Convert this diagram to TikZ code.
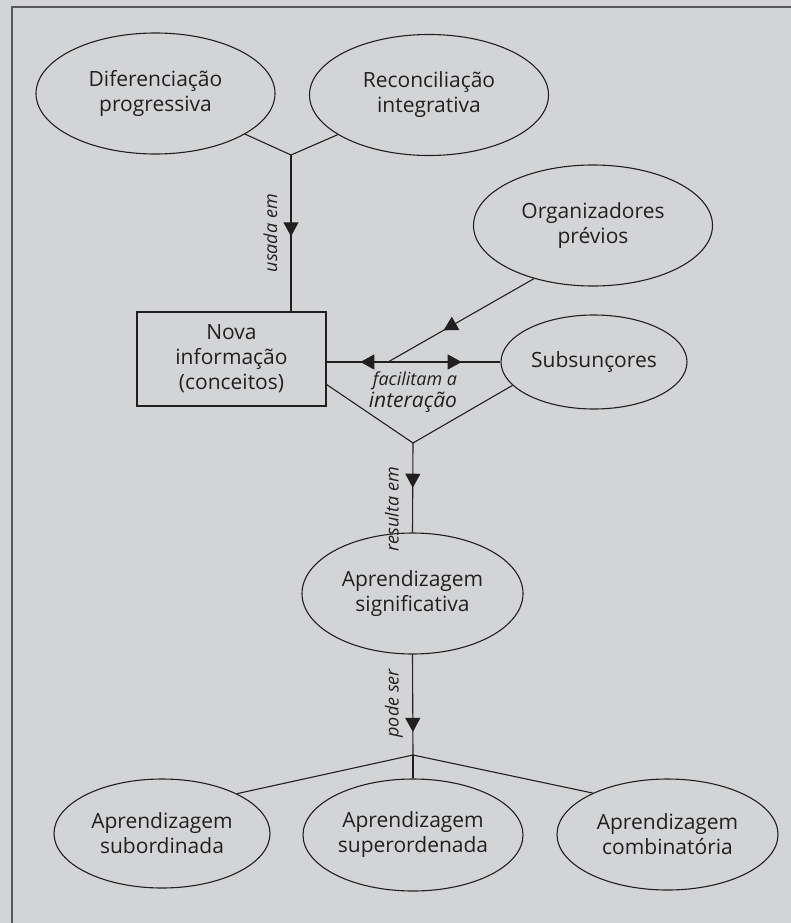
\documentclass[tikz,border=0pt]{standalone}
\usepackage{fontspec}
\setmainfont{Open Sans}
\usetikzlibrary{shapes,arrows.meta,positioning,calc,decorations.markings}

\definecolor{bggray}{RGB}{211,212,214}
\definecolor{framegray}{RGB}{88,88,90}
\definecolor{inkgray}{RGB}{35,31,32}

\tikzset{
  concept/.style={draw=inkgray, ellipse, line width=1.1pt, align=center, inner sep=0pt,
    minimum width=239pt, minimum height=121pt, text=inkgray, font=\fontsize{21}{25}\selectfont},
  infobox/.style={draw=inkgray, rectangle, line width=1.1pt, align=center, inner sep=0pt,
    minimum width=189pt, minimum height=94pt, text=inkgray, font=\fontsize{21}{25}\selectfont},
  lbl/.style={text=inkgray, inner sep=0pt, font=\itshape\fontsize{18}{21}\selectfont},
  vlbl/.style={lbl, rotate=90, anchor=south, text depth=0pt, outer sep=14pt},
  link/.style={draw=inkgray, line width=1.1pt},
  arrowat/.style={postaction={decorate, decoration={markings,
    mark=at position #1 with {\arrow{Triangle[width=15pt,length=14pt]}}}}},
  arrowback/.style={postaction={decorate, decoration={markings,
    mark=at position #1 with {\arrowreversed{Triangle[width=15pt,length=14pt]}}}}}
}

\begin{document}
\begin{tikzpicture}[x=1pt, y=-1pt]
% fundo e moldura
\fill[bggray] (0,0) rectangle (791,923);
\useasboundingbox (0,0) rectangle (791,923);
\draw[framegray, line width=2.5pt] (12,930) -- (12,7) -- (800,7);

% conceitos
\node[concept] (difer) at (155.5,93.5) {Diferenciação\\progressiva};
\node[concept] (recon) at (429,95) {Reconciliação\\integrativa};
\node[concept] (organ) at (593,225.5) {Organizadores\\prévios};
\node[concept, minimum width=186pt, minimum height=94pt] (subsun) at (594,362) {Subsunçores};
\node[infobox] (novainfo) at (231.5,359) {Nova\\informação\\(conceitos)};
\node[concept, minimum width=221pt] (signif) at (412.5,593.5) {Aprendizagem\\significativa};
\node[concept, minimum width=216pt, minimum height=109pt] (subord) at (162,833.5) {Aprendizagem\\subordinada};
\node[concept, minimum width=220pt, minimum height=112pt] (superord) at (413,835) {Aprendizagem\\superordenada};
\node[concept, minimum width=221pt, minimum height=111pt] (combin) at (667.5,834.5) {Aprendizagem\\combinatória};

% pontos de juncao
\coordinate (junA) at (291,155);
\coordinate (junB) at (413,443);
\coordinate (junC) at (413,755);
\coordinate (encontro) at (388,362);

% ligacoes
\draw[link] (difer) -- (junA) -- (recon);
\draw[link, arrowat=0.52] (junA) -- (junA |- novainfo.north)
  node[vlbl, pos=0.5] {usada em};
\draw[link, arrowback=0.194, arrowat=0.777] (novainfo.east |- subsun.west) -- (subsun.west);
\draw[link, arrowat=0.62] (organ.222) -- (encontro);
\draw[link] (novainfo.-15) -- (junB) -- (subsun.196);
\node[lbl, anchor=base] (facil) at (415,385) {facilitam a};
\node[lbl, anchor=base, font=\itshape\fontsize{21}{24}\selectfont] (inter) at (413,407) {interação};
\draw[link, arrowat=0.5] (junB) -- (signif.north)
  node[vlbl, pos=0.74] {resulta em};
\draw[link, arrowat=0.77] (signif.south) -- (junC)
  node[vlbl, pos=0.485] {pode ser};
\draw[link] (subord.28) -- (junC) -- (combin.151);
\draw[link] (junC) -- (superord.north);
\end{tikzpicture}
\end{document}
